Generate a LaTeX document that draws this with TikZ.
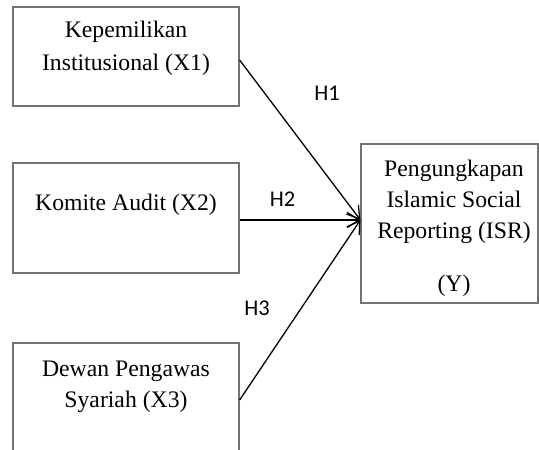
\documentclass[tikz,border=0pt]{standalone}
\usepackage{fontspec}
\setmainfont{Liberation Serif}
\newfontfamily\hypfont{Carlito}
\usetikzlibrary{arrows.meta}

\begin{document}
\begin{tikzpicture}[x=1bp, y=-1bp, >={Straight Barb[length=12bp, width=15bp]}]
 % Define block styles
	\tikzstyle{box} = [rectangle, draw=black!55, line width=1.2bp, inner sep=0pt]
	\tikzstyle{txt} = [align=center, inner sep=0pt, font=\fontsize{23.7bp}{31bp}\selectfont]
	\tikzstyle{hyp} = [inner sep=0pt, font=\hypfont\fontsize{22.5bp}{26bp}\selectfont]
	\tikzstyle{line} = [draw, ->, line width=1.3bp]
	\useasboundingbox (0,0) rectangle (539,450);
	\clip (0,0) rectangle (539,450);
%%====boxes===============================================================
	\node	[box, minimum width=226bp, minimum height=99bp]		(x1)	at (126,56.5)	{};
	\node	[box, minimum width=226bp, minimum height=110bp]	(x2)	at (126,218)	{};
	\node	[box, minimum width=226bp, minimum height=114bp]	(x3)	at (126,400)	{};
	\node	[box, minimum width=177bp, minimum height=159bp]	(y)		at (449.5,223.5)	{};
%%====texts===============================================================
	\node	[txt, font=\fontsize{23.7bp}{33bp}\selectfont]	(x1txt)	at (126,48.5)	{Kepemilikan\\Institusional (X1)};
	\node	[txt]	(x2txt)	at (126,205)	{Komite Audit (X2)};
	\node	[txt]	(x3txt)	at (126,386.8)	{Dewan Pengawas\\Syariah (X3)};
	\node	[txt]	(ytxt)	at (454,228.6)	{Pengungkapan\\Islamic Social\\Reporting (ISR)\\[22bp](Y)};
%%====hypotheses==========================================================
	\node	[hyp]	(h1)	at (327,93)		{H1};
	\node	[hyp]	(h2)	at (282.5,199)	{H2};
	\node	[hyp]	(h3)	at (257,308)	{H3};
%%====arrows==============================================================
	\coordinate (tip) at ([yshift=3.5bp]y.west);
	\path [line] ([yshift=-3.5bp]x1.east) -- (tip);
	\path [line] (x2.east |- tip) -- (tip);
	\path [line] (x3.east) -- (tip);
\end{tikzpicture}
\end{document}
